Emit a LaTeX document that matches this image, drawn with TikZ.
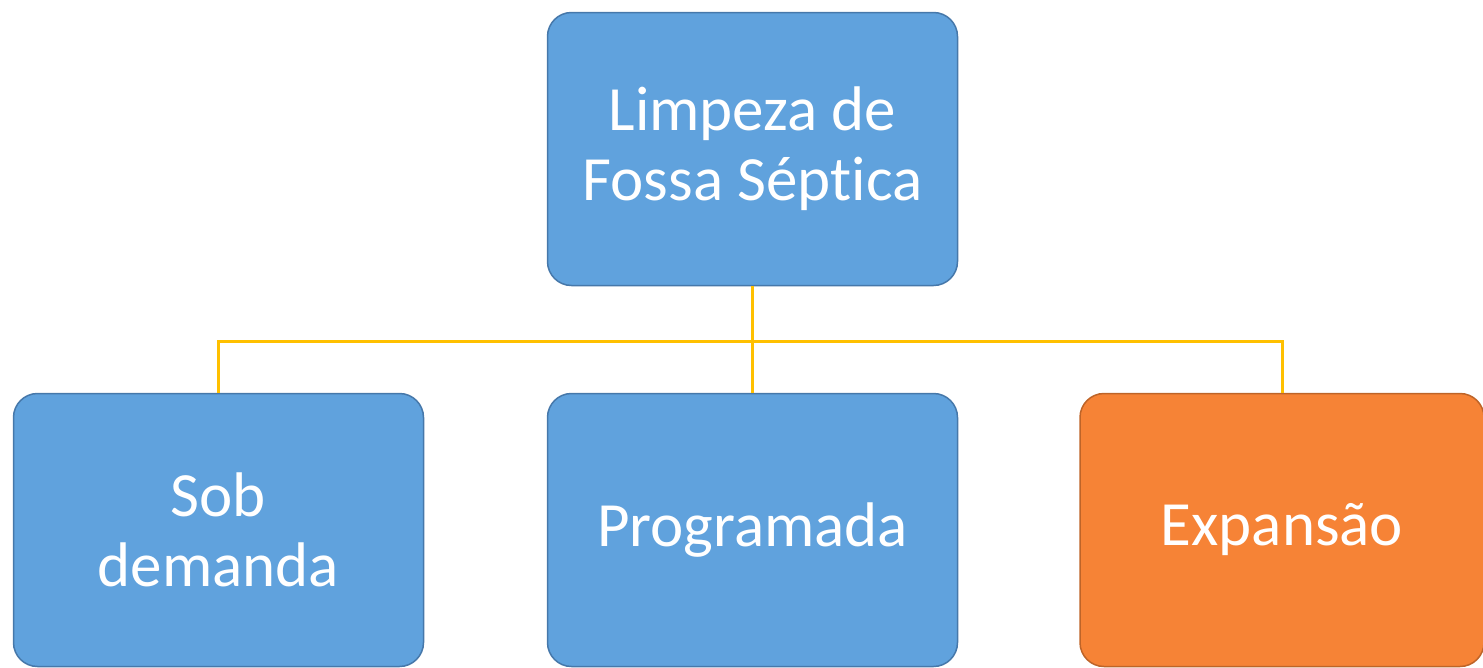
\documentclass[tikz,border=0pt]{standalone}
\usepackage{fontspec}
\setmainfont{Carlito}[Ligatures=NoCommon]
\definecolor{boxblue}{RGB}{96,162,221}
\definecolor{edgeblue}{RGB}{70,120,170}
\definecolor{boxorange}{RGB}{246,131,54}
\definecolor{edgeorange}{RGB}{190,100,40}
\definecolor{linkyellow}{RGB}{255,192,0}
\begin{document}
\begin{tikzpicture}[x=1pt,y=1pt,
    blubox/.style={draw=edgeblue,line width=1.5pt,fill=boxblue,rounded corners=24pt,
      minimum width=410pt,minimum height=273pt,text=white,align=center,
      font=\fontsize{63}{70}\selectfont},
    orabox/.style={blubox,draw=edgeorange,fill=boxorange,minimum width=404pt},
    link/.style={draw=linkyellow,line width=3pt}]
        \useasboundingbox (0,0) rectangle (1483,-667);
        \node[blubox] (top) at (752.5,-149) {Limpeza de\\Fossa Sépt\kern0pt ica};   % top
        \node[blubox] (sob) at (218.5,-530) {Sob\\demanda};
        \node[blubox] (prog) at (752.5,-530) {Programada};
        \node[orabox] (exp) at (1282,-530) {Expansão};
        \coordinate (mid) at (752.5,-341);
        \draw[link] (top.south) -- (mid);
        \draw[link] (mid) -| (sob.north);
        \draw[link] (mid) -- (prog.north);
        \draw[link] (mid) -| (exp.north);
\end{tikzpicture}
\end{document}
